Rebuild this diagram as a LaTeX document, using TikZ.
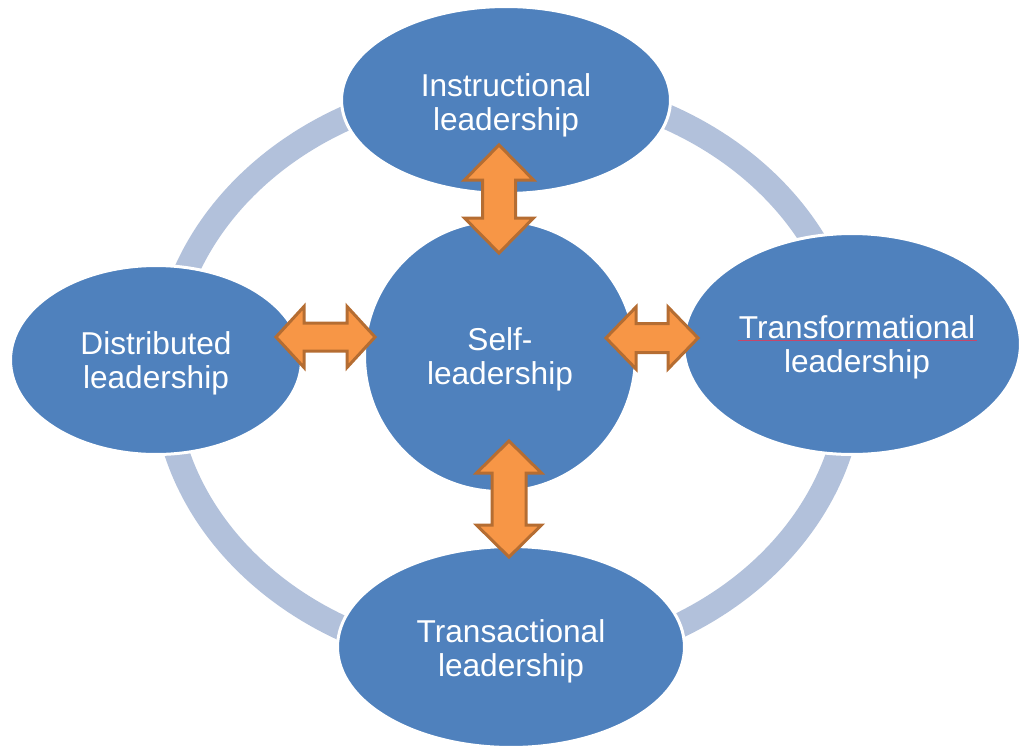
\documentclass[tikz,border=0pt]{standalone}
\usepackage{fontspec}
\setmainfont{Liberation Sans}
\definecolor{nodeblue}{HTML}{4F81BD}
\definecolor{ringblue}{HTML}{B2C1DB}
\definecolor{arrowfill}{HTML}{F79646}
\definecolor{arrowedge}{HTML}{B56D32}
\definecolor{spellred}{HTML}{C8466A}
\tikzset{
  topic/.style={ellipse, fill=nodeblue, draw=white, line width=0.06cm, inner sep=0pt},
  topictext/.style={text=white, align=center, inner sep=0pt, font=\fontsize{18}{19.4}\selectfont},
  ringline/.style={draw=ringblue, line width=0.5cm},
  blockarrow/.style={fill=arrowfill, draw=arrowedge, line width=0.06cm, line join=miter},
}
\usetikzlibrary{shapes.geometric}
% #1 cx, #2 cy, #3 length, #4 angle, #5 head width, #6 shaft width, #7 head length
\newcommand{\dblblockarrow}[7]{%
  \draw[blockarrow, shift={(#1,#2)}, rotate=#4]
    ({-#3/2},0) -- ({-#3/2+#7},{-#5/2}) -- ({-#3/2+#7},{-#6/2}) -- ({#3/2-#7},{-#6/2})
    -- ({#3/2-#7},{-#5/2}) -- ({#3/2},0) -- ({#3/2-#7},{#5/2}) -- ({#3/2-#7},{#6/2})
    -- ({-#3/2+#7},{#6/2}) -- ({-#3/2+#7},{#5/2}) -- cycle;}
\begin{document}
\begin{tikzpicture}[x=0.02cm,y=-0.02cm]
\useasboundingbox (0,0) rectangle (1020,747);
% ring
\draw[ringline] (508,374) ellipse [x radius=344, y radius=290];
% nodes
\node[topic, minimum width=6.58cm, minimum height=3.74cm] (instr) at (506,100) {};
\node[topic, minimum width=5.82cm, minimum height=3.78cm] (distr) at (156,360) {};
\node[topic, minimum width=6.74cm, minimum height=4.42cm] (transf) at (852,344) {};
\node[topic, minimum width=6.94cm, minimum height=4.02cm] (transa) at (511,647) {};
\node[topic, circle, minimum size=5.42cm] (self) at (500,356) {};
% texts
\node[topictext] (instr-t) at (506,105) {Instructional\\leadership};
\node[topictext] (distr-t) at (156,363) {Distributed\\leadership};
\node[topictext] (transf-t) at (857,347.5) {Transformational\\leadership};
\node[topictext] (transa-t) at (511,651) {Transactional\\leadership};
\node[topictext] (self-t) at (500,359) {Self-\\leadership};
% spell-check underline
\draw[spellred, line width=0.025cm] (738,340.5) -- (977,340.5);
% arrows
\dblblockarrow{499}{199}{108}{90}{69}{33}{35}
\dblblockarrow{509}{499}{116}{90}{65}{34}{32}
\dblblockarrow{325.5}{337}{99}{0}{61}{28}{28}
\dblblockarrow{652}{338}{92}{0}{62}{29}{30}
\end{tikzpicture}
\end{document}
